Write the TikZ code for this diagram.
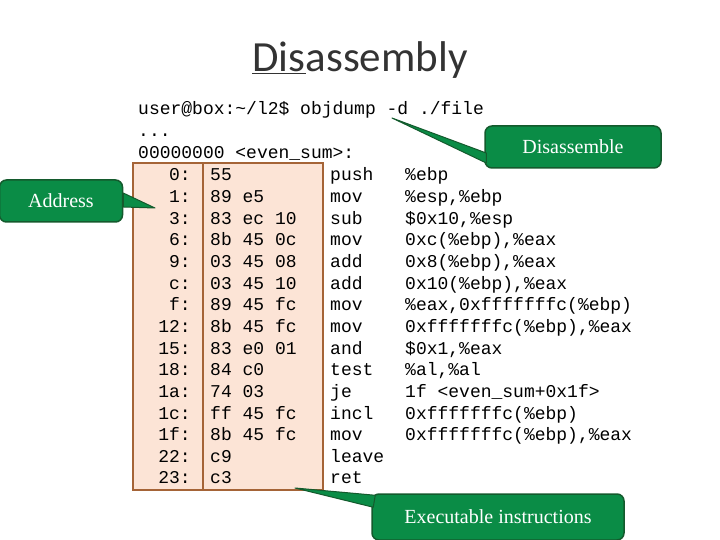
\documentclass[tikz,border=0pt]{standalone}
\usepackage{fontspec}
\setmainfont{Liberation Serif}
\setmonofont{Liberation Mono}
\newfontfamily\titlefont{Carlito}
\usetikzlibrary{positioning}
\definecolor{boxfill}{RGB}{252,228,214}
\definecolor{boxline}{RGB}{165,100,55}
\definecolor{callgreen}{RGB}{10,140,70}
\definecolor{callline}{RGB}{20,90,45}
\tikzset{
  code/.style = {anchor=base west, inner sep=0pt, font=\fontsize{18}{18}\ttfamily},
  addr/.style = {anchor=base east, inner sep=0pt, font=\fontsize{18}{18}\ttfamily},
  callout/.style = {fill=callgreen, draw=callline, line width=1.5pt, rounded corners=7pt,
    text=white, font=\fontsize{20}{20}\selectfont, inner sep=0pt},
  pointer/.style = {fill=callgreen, draw=callline, line width=1pt, line join=round}
}
\begin{document}
\begin{tikzpicture}[x=1pt,y=-1pt]
\useasboundingbox (0,0) rectangle (720,540);
\node[font=\fontsize{43}{43}\titlefont, text=black!80] (title) at (360,60)
  {\underline{Dis}assembly};
% code box
\draw[fill=boxfill, draw=boxline, line width=2pt] (133,163) rectangle (323,490);
\draw[boxline, line width=2pt] (203,163) -- (203,490);
\node[code] (cmd) at (138,115) {user@box:\textasciitilde/l2\$ objdump -d ./file};
\node[code] (dots) at (138,137) {...};
\node[code] (func) at (138,159) {00000000 <even\_sum>:};
\foreach \a/\b/\m/\o [count=\i from 0] in {
  0:/55/push/\%ebp,
  1:/89 e5/mov/{\%esp,\%ebp},
  3:/83 ec 10/sub/{\$0x10,\%esp},
  6:/8b 45 0c/mov/{0xc(\%ebp),\%eax},
  9:/03 45 08/add/{0x8(\%ebp),\%eax},
  c:/03 45 10/add/{0x10(\%ebp),\%eax},
  f:/89 45 fc/mov/{\%eax,0xfffffffc(\%ebp)},
  12:/8b 45 fc/mov/{0xfffffffc(\%ebp),\%eax},
  15:/83 e0 01/and/{\$0x1,\%eax},
  18:/84 c0/test/{\%al,\%al},
  1a:/74 03/je/{1f <even\_sum+0x1f>},
  1c:/ff 45 fc/incl/{0xfffffffc(\%ebp)},
  1f:/8b 45 fc/mov/{0xfffffffc(\%ebp),\%eax},
  22:/c9/leave/{},
  23:/c3/ret/{}}
{
  \node[addr] (a\i) at (191,181+21.64*\i) {\a};
  \node[code] (b\i) at (210,181+21.64*\i) {\b};
  \node[code] (m\i) at (330,181+21.64*\i) {\m};
  \node[code] (o\i) at (405,181+21.64*\i) {\o};
}
% callouts
\node[callout, minimum width=123pt, minimum height=42pt] (address) at (61,201) {Address};
\draw[pointer] ([yshift=-6pt]address.east) -- (155,208) -- ([yshift=8pt]address.east) -- cycle;
\node[callout, minimum width=176pt, minimum height=42pt] (disasm) at (573,147) {Disassemble};
\coordinate (disasmtip) at (392,118);
\draw[pointer] ([xshift=2pt,yshift=-16pt]disasm.west) -- (disasmtip) -- ([xshift=2pt,yshift=-6pt]disasm.west) -- cycle;
\node[callout, minimum width=252pt, minimum height=46pt] (exec) at (498,517) {Executable instructions};
\coordinate (exectip) at (295,488);
\draw[pointer] ([xshift=4pt,yshift=-2pt]exec.north west) -- (exectip) -- ([xshift=2pt,yshift=-14pt]exec.north west) -- cycle;
\end{tikzpicture}
\end{document}
